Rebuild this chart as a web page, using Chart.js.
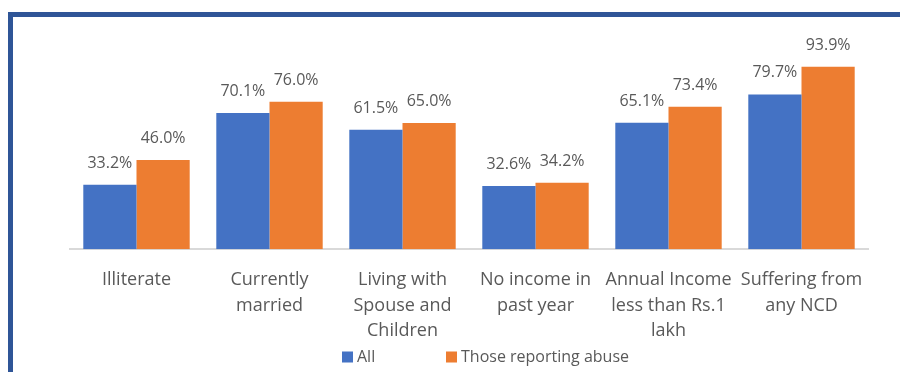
<!DOCTYPE html>
<html>
<head>
<meta charset="utf-8">
<script src="https://cdn.jsdelivr.net/npm/chart.js@4.4.1/dist/chart.umd.min.js"></script>
<style>
  html, body { margin: 0; padding: 0; background: #fff; overflow: hidden; }
  #wrap { position: relative; width: 900px; height: 372px; }
  #frame {
    position: absolute; left: 8px; top: 12px; width: 900px; height: 400px;
    border-left: 5px solid #2F5597; border-top: 5px solid #2F5597;
    pointer-events: none;
  }
  canvas { position: absolute; left: 0; top: 0; }
</style>
</head>
<body>
<div id="wrap">
  <canvas id="chart" width="900" height="372"></canvas>
  <div id="frame"></div>
</div>
<script>
const categories = [
  "Illiterate",
  ["Currently", "married"],
  ["Living with", "Spouse and", "Children"],
  ["No income in", "past year"],
  ["Annual Income", "less than Rs.1", "lakh"],
  ["Suffering from", "any NCD"]
];
const allValues = [33.2, 70.1, 61.5, 32.6, 65.1, 79.7];
const abuseValues = [46.0, 76.0, 65.0, 34.2, 73.4, 93.9];
const seriesNames = ["All", "Those reporting abuse"];

const FONT = "'Open Sans', sans-serif";
const TEXT = "#595959";

// value labels sit just above each bar
const barLabels = {
  id: "barLabels",
  afterDatasetsDraw(chart) {
    const ctx = chart.ctx;
    ctx.save();
    ctx.font = "16px " + FONT;
    ctx.fillStyle = TEXT;
    ctx.textAlign = "center";
    ctx.textBaseline = "alphabetic";
    chart.data.datasets.forEach((ds, i) => {
      chart.getDatasetMeta(i).data.forEach((bar, j) => {
        ctx.fillText(ds.data[j].toFixed(1) + "%", bar.x, bar.y - 17);
      });
    });
    ctx.restore();
  }
};

// legend row under the category labels
const bottomLegend = {
  id: "bottomLegend",
  afterDraw(chart) {
    const ctx = chart.ctx;
    const xs = [342, 446];
    const y = 357;
    ctx.save();
    ctx.font = "16px " + FONT;
    ctx.textBaseline = "middle";
    chart.data.datasets.forEach((ds, i) => {
      ctx.fillStyle = ds.backgroundColor;
      ctx.fillRect(xs[i], y - 5.5, 11, 11);
      ctx.fillStyle = TEXT;
      ctx.fillText(ds.label, xs[i] + 15, y);
    });
    ctx.restore();
  }
};

new Chart(document.getElementById("chart").getContext("2d"), {
  type: "bar",
  data: {
    labels: categories,
    datasets: [
      { label: seriesNames[0], data: allValues, backgroundColor: "#4472C4" },
      { label: seriesNames[1], data: abuseValues, backgroundColor: "#ED7D31" }
    ]
  },
  options: {
    responsive: false,
    animation: false,
    layout: { padding: { left: 70, right: 32, top: 55, bottom: 18 } },
    datasets: { bar: { categoryPercentage: 0.8, barPercentage: 1.0 } },
    plugins: { legend: { display: false }, tooltip: { enabled: false } },
    scales: {
      x: {
        grid: { display: false },
        border: { display: true, color: "#D9D9D9", width: 2 },
        ticks: { color: TEXT, font: { family: FONT, size: 18, lineHeight: 1.42 }, padding: 10, maxRotation: 0, autoSkip: false }
      },
      y: { display: false, min: 0, max: 100 }
    }
  },
  plugins: [barLabels, bottomLegend]
});
</script>
</body>
</html>
